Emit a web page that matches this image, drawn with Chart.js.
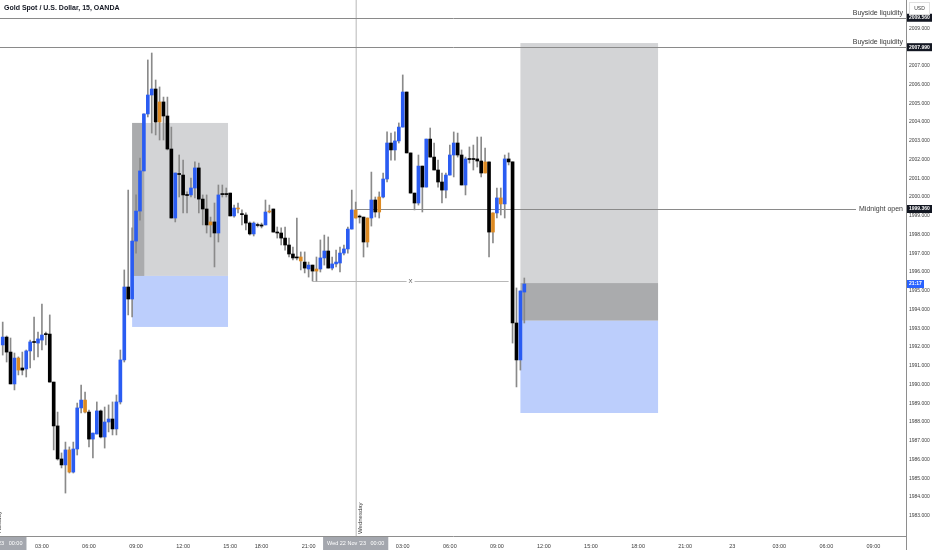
<!DOCTYPE html>
<html>
<head>
<meta charset="utf-8">
<script src="https://cdn.jsdelivr.net/npm/chart.js@4.4.1/dist/chart.umd.min.js"></script>
<style>
  html, body { margin: 0; padding: 0; background: #fff; }
  canvas { display: block; }
</style>
</head>
<body>
<canvas id="chart" width="932" height="550"></canvas>
<script>
// XAUUSD 15m candles (slot 0 = first visible bar)
const opens = [
  1992.11, 1992.53, 1991.73, 1990.03, 1991.41, 1990.88, 1990.83, 1991.79, 1992.27, 1992.21,
  1992.37, 1992.69, 1992.69, 1990.13, 1987.79, 1986.03, 1985.71, 1986.51, 1985.33, 1986.56,
  1988.75, 1989.17, 1988.53, 1987.09, 1987.36, 1988.59, 1987.20, 1988.00, 1988.16, 1987.63,
  1989.07, 1991.31, 1995.20, 1994.56, 1997.65, 1999.25, 2001.39, 2004.43, 2005.44, 2005.76,
  2005.07, 2005.07, 2004.32, 2002.56, 1998.88, 2001.23, 2001.17, 2000.11, 2000.11, 2000.48,
  2001.55, 1999.89, 1999.36, 1998.67, 1998.67, 1998.08, 2000.16, 2000.16, 2000.21, 1998.99,
  1999.41, 1999.09, 1999.04, 1998.61, 1998.03, 1998.51, 1998.51, 1998.51, 1999.25, 1999.36,
  1998.13, 1998.08, 1997.81, 1997.44, 1996.96, 1996.80, 1996.80, 1996.53, 1996.16, 1996.37,
  1996.16, 1996.16, 1996.75, 1997.12, 1996.21, 1996.43, 1996.48, 1997.01, 1997.23, 1998.29,
  1999.31, 1998.95, 1998.93, 1997.60, 1998.88, 1999.84, 1999.20, 2000.00, 2000.96, 2002.88,
  2002.51, 2002.99, 2003.73, 2005.60, 2002.35, 2000.21, 1999.68, 2001.65, 2000.53, 2003.09,
  2002.13, 2001.44, 2000.80, 2000.37, 2001.17, 2002.24, 2002.88, 2002.24, 2000.64, 2002.03,
  2002.03, 2002.03, 2001.92, 2001.28, 2001.87, 1998.13, 1999.15, 1999.95, 1999.63, 2002.03,
  2001.87, 1993.28, 1991.31, 1994.93
];
const highs = [
  1993.33, 1992.59, 1992.48, 1991.68, 1991.47, 1991.73, 1991.84, 1992.37, 1993.60, 1992.80,
  1994.29, 1992.80, 1993.71, 1990.13, 1988.53, 1986.35, 1986.93, 1986.67, 1986.93, 1989.01,
  1989.97, 1989.60, 1988.64, 1987.41, 1989.07, 1988.64, 1988.80, 1988.91, 1989.07, 1989.44,
  1991.84, 1996.11, 2000.37, 1998.35, 2000.11, 2002.08, 2004.43, 2007.31, 2007.68, 2006.24,
  2005.87, 2005.33, 2005.33, 2003.73, 2001.28, 2002.24, 2001.97, 2000.27, 2001.01, 2001.87,
  2001.81, 2000.11, 2000.11, 1998.93, 1999.68, 2000.64, 2000.64, 2000.48, 2000.21, 1999.57,
  1999.68, 1999.31, 1999.15, 1998.67, 1998.67, 1998.61, 1998.61, 1999.84, 1999.57, 1999.36,
  1998.40, 1998.35, 1998.40, 1997.81, 1997.33, 1998.88, 1997.07, 1997.07, 1996.53, 1996.37,
  1996.80, 1997.71, 1997.97, 1997.87, 1996.80, 1997.17, 1997.33, 1997.44, 1998.40, 2000.37,
  1999.73, 1999.04, 1998.93, 1998.88, 2001.33, 2000.00, 2000.27, 2001.28, 2003.47, 2003.41,
  2003.47, 2003.95, 2006.51, 2005.60, 2002.35, 2000.21, 2002.24, 2001.65, 2003.09, 2003.68,
  2002.88, 2001.97, 2001.28, 2001.28, 2002.77, 2003.47, 2003.41, 2002.51, 2002.13, 2002.67,
  2002.77, 2003.20, 2003.20, 2002.61, 2001.87, 1999.15, 2000.48, 2000.48, 2002.24, 2002.35,
  2001.87, 1995.15, 1994.99, 1995.68
];
const lows = [
  1991.57, 1991.20, 1990.03, 1989.71, 1990.51, 1990.51, 1990.40, 1990.88, 1991.31, 1991.47,
  1991.84, 1992.11, 1990.13, 1986.51, 1985.97, 1985.55, 1984.21, 1985.28, 1985.28, 1986.24,
  1988.48, 1988.48, 1986.67, 1986.08, 1987.36, 1987.15, 1986.61, 1987.47, 1987.31, 1987.31,
  1988.96, 1991.20, 1993.71, 1993.60, 1997.01, 1998.77, 2001.39, 2004.27, 2003.41, 2003.31,
  2003.04, 2003.04, 2002.51, 1998.88, 1998.67, 2000.00, 1999.15, 1999.15, 2000.00, 1999.95,
  1999.15, 1998.51, 1998.08, 1997.87, 1996.27, 1997.60, 2000.00, 2000.00, 1998.99, 1998.93,
  1999.15, 1998.51, 1998.24, 1997.97, 1997.92, 1998.40, 1998.35, 1998.51, 1999.15, 1998.13,
  1997.81, 1997.44, 1997.17, 1996.80, 1996.64, 1996.64, 1996.11, 1995.95, 1995.73, 1995.52,
  1995.52, 1996.00, 1996.37, 1996.21, 1996.11, 1996.27, 1996.00, 1996.91, 1997.01, 1998.29,
  1998.88, 1998.61, 1996.80, 1997.33, 1998.45, 1998.93, 1998.88, 1999.95, 2000.80, 2001.97,
  2001.97, 2002.88, 2003.73, 2002.35, 2000.21, 1999.31, 1999.57, 1999.20, 2000.53, 2002.13,
  2001.44, 2000.53, 1999.68, 1999.95, 2001.17, 2001.07, 2002.13, 2000.64, 2000.11, 2001.81,
  2001.44, 2001.60, 2001.07, 2001.28, 1996.80, 1997.55, 1998.88, 1999.04, 1998.88, 2001.71,
  1992.21, 1989.87, 1990.77, 1993.28
];
const closes = [
  1992.53, 1991.73, 1990.03, 1991.41, 1990.77, 1990.77, 1991.79, 1992.27, 1992.24, 1992.43,
  1992.64, 1992.66, 1990.13, 1987.79, 1986.03, 1985.71, 1986.51, 1985.33, 1986.56, 1988.75,
  1989.17, 1988.53, 1987.09, 1987.41, 1988.59, 1987.20, 1988.00, 1988.16, 1987.63, 1989.07,
  1991.31, 1995.20, 1994.56, 1997.65, 1999.25, 2001.39, 2004.43, 2005.44, 2005.76, 2004.00,
  2004.00, 2004.32, 2002.56, 1998.88, 2001.28, 2001.20, 2000.11, 2000.08, 2000.48, 2001.55,
  1999.89, 1999.36, 1998.51, 1998.51, 1998.08, 2000.11, 2000.13, 2000.13, 1998.99, 1999.41,
  1999.36, 1999.06, 1998.61, 1998.03, 1998.61, 1998.48, 1998.45, 1999.20, 1999.20, 1998.13,
  1998.08, 1997.81, 1997.44, 1996.96, 1996.75, 1996.75, 1996.59, 1996.21, 1996.37, 1996.05,
  1996.05, 1996.75, 1997.12, 1996.21, 1996.43, 1996.53, 1997.01, 1997.23, 1998.29, 1999.31,
  1998.88, 1998.93, 1997.60, 1998.88, 1999.84, 1999.20, 2000.00, 2000.96, 2002.88, 2002.51,
  2002.99, 2003.73, 2005.60, 2002.35, 2000.21, 1999.68, 2001.65, 2000.53, 2003.09, 2002.13,
  2001.44, 2000.80, 2000.37, 2001.17, 2002.24, 2002.88, 2002.24, 2000.64, 2002.03, 2002.00,
  2002.00, 2001.92, 2001.28, 2001.87, 1998.13, 1999.15, 1999.95, 1999.63, 2002.03, 2001.87,
  1993.28, 1991.31, 1994.99, 1995.36
];
// bars painted orange by the bar-colour script
const altBars = [4, 17, 21, 40, 53, 60, 68, 76, 80, 90, 93, 96, 123, 125, 127];

const priceTicks = [1983, 1984, 1985, 1986, 1987, 1988, 1989, 1990, 1991, 1992, 1993, 1994, 1995, 1996,
  1997, 1998, 1999, 2000, 2001, 2002, 2003, 2004, 2005, 2006, 2007, 2008, 2009];
const timeTickSlots = [10, 22, 34, 46, 58, 66, 78, 102, 114, 126, 138, 150, 162, 174, 186, 198, 210, 222];
const timeTickLabels = ['03:00', '06:00', '09:00', '12:00', '15:00', '18:00', '21:00', '03:00', '06:00',
  '09:00', '12:00', '15:00', '18:00', '21:00', '23', '03:00', '06:00', '09:00'];

// drawings
const buysideLevels = [2009.56, 2007.99];
const midnightOpen = 1999.36;
const midnightSlot = 90;
const sweepLevel = 1995.52;
const sweepSlots = [79, 129];
const zone1 = { from: 33, to: 57.45, strip: 36.1, top: 2003.95, mid: 1995.79, bottom: 1993.07 };
const zone2 = { from: 132, to: 167.1, top: 2008.21, mid: 1995.41, entry: 1993.40, bottom: 1988.48 };
const priceLabels = [[2009.56, '2009.560'], [2007.99, '2007.990'], [1999.36, '1999.360']];
const countdown = '21:17';

const FONT = '"Liberation Sans", Arial, sans-serif';
const TEXT = '#3b3b3b';

const slots = opens.map((_, i) => i);
const bodyColors = slots.map(i => altBars.includes(i) ? '#dd8a22' : (closes[i] >= opens[i] ? '#2a5cf2' : '#000000'));

const drawings = {
    id: 'drawings',
    beforeDatasetsDraw(chart) {
        const { ctx, chartArea: a, scales: { x, y } } = chart;
        const X = v => x.getPixelForValue(v);
        const Y = v => y.getPixelForValue(v);
        ctx.save();

        // zone 1
        ctx.fillStyle = '#d3d4d6';
        ctx.fillRect(X(zone1.from), Y(zone1.top), X(zone1.to) - X(zone1.from), Y(zone1.mid) - Y(zone1.top));
        ctx.fillStyle = '#aaabad';
        ctx.fillRect(X(zone1.from), Y(zone1.top), X(zone1.strip) - X(zone1.from), Y(zone1.mid) - Y(zone1.top));
        ctx.fillStyle = '#bccefc';
        ctx.fillRect(X(zone1.from), Y(zone1.mid), X(zone1.to) - X(zone1.from), Y(zone1.bottom) - Y(zone1.mid));

        // zone 2
        ctx.fillStyle = '#d3d4d6';
        ctx.fillRect(X(zone2.from), Y(zone2.top), X(zone2.to) - X(zone2.from), Y(zone2.mid) - Y(zone2.top));
        ctx.fillStyle = '#aaabad';
        ctx.fillRect(X(zone2.from), Y(zone2.mid), X(zone2.to) - X(zone2.from), Y(zone2.entry) - Y(zone2.mid));
        ctx.fillStyle = '#bccefc';
        ctx.fillRect(X(zone2.from), Y(zone2.entry), X(zone2.to) - X(zone2.from), Y(zone2.bottom) - Y(zone2.entry));

        // midnight vertical line
        ctx.strokeStyle = '#cfcfcf';
        ctx.lineWidth = 1.5;
        ctx.beginPath();
        ctx.moveTo(Math.round(X(midnightSlot)) + 0.25, a.top);
        ctx.lineTo(Math.round(X(midnightSlot)) + 0.25, a.bottom);
        ctx.stroke();

        ctx.font = '7px ' + FONT;
        ctx.lineWidth = 1;

        // buyside liquidity lines
        buysideLevels.forEach(p => {
            const py = Math.round(Y(p)) + 0.5;
            ctx.strokeStyle = '#8a8a8a';
            ctx.beginPath();
            ctx.moveTo(a.left, py);
            ctx.lineTo(a.right, py);
            ctx.stroke();
            ctx.fillStyle = '#3a3a3a';
            ctx.textAlign = 'right';
            ctx.textBaseline = 'alphabetic';
            ctx.fillText('Buyside liquidity', a.right - 4, py - 4);
        });

        // midnight open
        const my = Math.round(Y(midnightOpen)) + 0.5;
        const label = 'Midnight open';
        const tw = ctx.measureText(label).width;
        ctx.strokeStyle = '#8a8a8a';
        ctx.beginPath();
        ctx.moveTo(X(midnightSlot), my);
        ctx.lineTo(a.right - 4 - tw - 3, my);
        ctx.stroke();
        ctx.fillStyle = '#3a3a3a';
        ctx.textAlign = 'right';
        ctx.textBaseline = 'middle';
        ctx.fillText(label, a.right - 4, my);

        // sweep line with X
        const sy = Math.round(Y(sweepLevel)) + 0.5;
        const x0 = X(sweepSlots[0]), x1 = X(sweepSlots[1]);
        const xm = (x0 + x1) / 2;
        ctx.strokeStyle = '#b8b8b8';
        ctx.beginPath();
        ctx.moveTo(x0, sy); ctx.lineTo(xm - 4, sy);
        ctx.moveTo(xm + 4, sy); ctx.lineTo(x1, sy);
        ctx.stroke();
        ctx.font = '6px ' + FONT;
        ctx.fillStyle = '#555';
        ctx.textAlign = 'center';
        ctx.fillText('X', xm, sy);
        ctx.restore();
    },
    afterDraw(chart) {
        const { ctx, chartArea: a, scales: { x, y } } = chart;
        const X = v => x.getPixelForValue(v);
        const Y = v => y.getPixelForValue(v);
        ctx.save();

        // axis lines
        ctx.strokeStyle = '#8e8e8e';
        ctx.lineWidth = 1;
        ctx.beginPath();
        ctx.moveTo(a.left, a.bottom + 0.5);
        ctx.lineTo(a.right, a.bottom + 0.5);
        ctx.moveTo(a.right - 0.5, 0);
        ctx.lineTo(a.right - 0.5, chart.height);
        ctx.stroke();

        // price labels on the axis
        ctx.font = 'bold 5px ' + FONT;
        ctx.textAlign = 'left';
        ctx.textBaseline = 'middle';
        priceLabels.forEach(([p, t]) => {
            const py = Y(p);
            ctx.fillStyle = '#131722';
            ctx.fillRect(a.right, py - 4, chart.width - a.right, 8);
            ctx.fillStyle = '#ffffff';
            ctx.fillText(t, a.right + 2, py);
        });
        const cy = Y(closes[closes.length - 1]);
        ctx.fillStyle = '#2962ff';
        ctx.fillRect(a.right, cy - 4, 17, 8);
        ctx.fillStyle = '#ffffff';
        ctx.fillText(countdown, a.right + 2, cy);

        // currency box
        ctx.fillStyle = '#ffffff';
        ctx.fillRect(a.right + 2, 2, 20, 12);
        ctx.strokeStyle = '#e0e0e0';
        ctx.strokeRect(a.right + 2.5, 2.5, 20, 12);
        ctx.font = '5px ' + FONT;
        ctx.fillStyle = TEXT;
        ctx.textAlign = 'center';
        ctx.fillText('USD', a.right + 12.5, 8.5);

        // highlighted time labels
        ctx.font = '5.5px ' + FONT;
        const stamp = (cx, text) => {
            const w = ctx.measureText(text).width + 8;
            ctx.fillStyle = '#a4a7ae';
            ctx.fillRect(cx - w / 2, a.bottom + 1, w, chart.height - a.bottom - 1);
            ctx.fillStyle = '#ffffff';
            ctx.textAlign = 'center';
            ctx.fillText(text, cx, a.bottom + 7);
        };
        stamp(X(midnightSlot), "Wed 22 Nov '23   00:00");
        stamp(X(midnightSlot - 92) , "Tue 21 Nov '23   00:00");

        // day names
        const dayName = (px, text) => {
            ctx.save();
            ctx.translate(px, a.bottom - 2);
            ctx.rotate(-Math.PI / 2);
            ctx.font = '6px ' + FONT;
            ctx.fillStyle = TEXT;
            ctx.textAlign = 'left';
            ctx.textBaseline = 'middle';
            ctx.fillText(text, 0, 0);
            ctx.restore();
        };
        dayName(X(midnightSlot) + 4.5, 'Wednesday');
        dayName(X(midnightSlot - 92) + 4.5, 'Tuesday');

        // title
        ctx.font = 'bold 7px ' + FONT;
        ctx.fillStyle = '#131722';
        ctx.textAlign = 'left';
        ctx.textBaseline = 'middle';
        ctx.fillText('Gold Spot / U.S. Dollar, 15, OANDA', 4, 8);
        ctx.restore();
    }
};

const ctx = document.getElementById('chart').getContext('2d');
_ = new Chart(ctx, {
    type: 'bar',
    data: {
        datasets: [{
            label: 'Body',
            data: slots.map(i => ({ x: i, y: [opens[i], closes[i]] })),
            backgroundColor: bodyColors,
            borderWidth: 0,
            barThickness: 3,
            minBarLength: 1,
            grouped: false,
            order: 0
        }, {
            label: 'Wick',
            data: slots.map(i => ({ x: i, y: [lows[i], highs[i]] })),
            backgroundColor: '#8a8a8a',
            borderWidth: 0,
            barThickness: 1,
            minBarLength: 1,
            grouped: false,
            order: 1
        }]
    },
    options: {
        responsive: false,
        animation: false,
        devicePixelRatio: 1,
        layout: { padding: 0, autoPadding: false },
        plugins: { legend: { display: false }, tooltip: { enabled: false } },
        scales: {
            x: {
                type: 'linear',
                offset: false,
                min: -0.688,
                max: 230.57,
                grid: { display: false },
                border: { display: false },
                afterBuildTicks: s => { s.ticks = timeTickSlots.map(v => ({ value: v })); },
                afterFit: s => { s.height = 14; },
                ticks: {
                    autoSkip: false,
                    maxRotation: 0,
                    padding: -1,
                    color: TEXT,
                    font: { size: 5.5, family: FONT },
                    callback: (v, i) => timeTickLabels[i]
                }
            },
            y: {
                position: 'right',
                beginAtZero: false,
                min: 1981.92,
                max: 2010.507,
                grid: { display: true, drawOnChartArea: false, drawTicks: true, tickLength: 5, tickColor: 'rgba(0,0,0,0)' },
                border: { display: false },
                afterBuildTicks: s => { s.ticks = priceTicks.map(v => ({ value: v })); },
                afterFit: s => { s.width = 25; },
                ticks: {
                    padding: -3,
                    color: TEXT,
                    font: { size: 5, family: FONT },
                    callback: v => v.toFixed(3)
                }
            }
        }
    },
    plugins: [drawings]
});
</script>
</body>
</html>
